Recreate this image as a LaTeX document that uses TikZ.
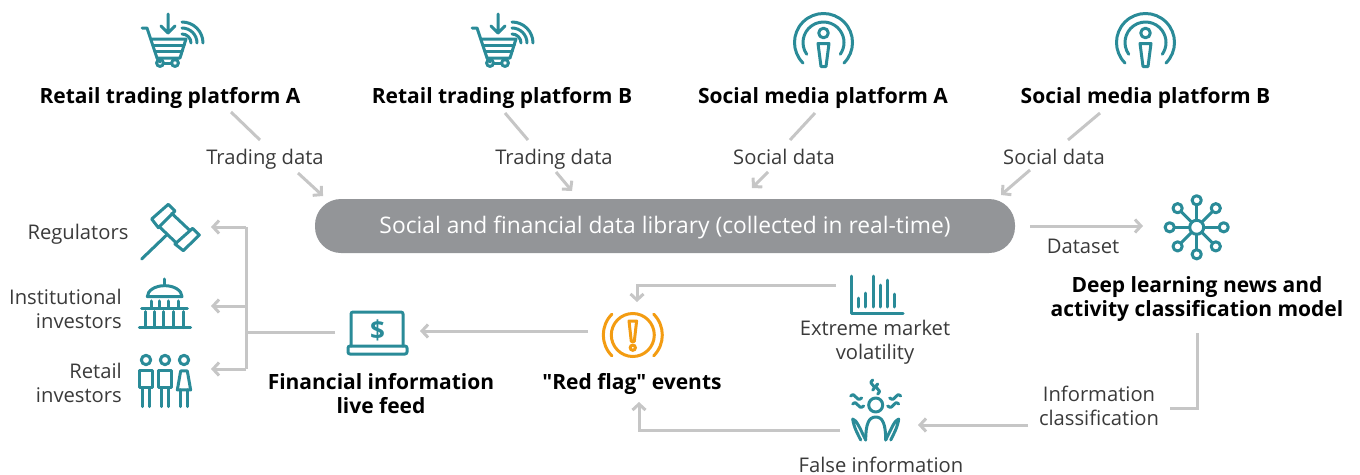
\documentclass[tikz,border=0pt]{standalone}
\usepackage{fontspec}
\setmainfont{Open Sans}[Ligatures=TeXOff]
\usetikzlibrary{arrows.meta}
\definecolor{teal1}{HTML}{2A8B98}
\definecolor{lineg}{HTML}{C6C6C6}
\definecolor{pillg}{HTML}{939598}
\definecolor{orng}{HTML}{F39C12}
\definecolor{txt}{HTML}{3A3A3A}
\tikzset{
  head/.style={font=\fontsize{21}{24}\selectfont\bfseries,text=black,align=center,inner sep=0pt},
  lab/.style={font=\fontsize{20.2}{24}\selectfont,text=txt,align=center,inner sep=0pt},
  conn/.style={draw=lineg,line width=3pt},
  arr/.style={conn,-{Straight Barb[length=6pt,width=13pt,line width=3pt]}},
  ico/.style={draw=teal1,line width=3pt,line cap=round,line join=round},
  cart/.pic={
    \draw[ico] (-26,28)--(-21,28)--(-11,58)--(12,58)--(18,39)--(-17,39);
    \draw[ico] (-15,45)--(16,45) (-13,51)--(14,51);
    \draw[ico] (-11,58)--(-8,62);
    \draw[ico] (-8,63) circle[radius=3.4] (7,63) circle[radius=3.4];
    \draw[ico] (-4.6,63)--(3.6,63);
    \draw[ico] (0,14)--(0,33) (-7,26)--(0,33)--(7,26);
    \draw[ico] (14,34) arc[start angle=270,end angle=360,radius=9];
    \draw[ico] (14,28) arc[start angle=270,end angle=360,radius=15];
    \draw[ico] (14,22) arc[start angle=270,end angle=360,radius=21];
  },
  pod/.pic={
    \draw[ico] (0,-9.5) circle[radius=4.8];
    \draw[ico] (-5.5,1)--(5.5,1)--(2.5,24)--(-2.5,24)--cycle;
    \draw[ico] (135:29) arc[start angle=135,end angle=405,radius=29];
    \draw[ico] (145:20.5) arc[start angle=145,end angle=395,radius=20.5];
  }
}
\begin{document}
\begin{tikzpicture}[x=1pt,y=-1pt]
\useasboundingbox (0,0) rectangle (1360,474);
% ---------- top headings
\pic at (168,0) {cart};
\pic at (498,0) {cart};
\pic at (823.5,42.5) {pod};
\pic at (1145.5,42.5) {pod};
\node[head] (rta) at (170,98) {Retail trading platform A};
\node[head] (rtb) at (502,98) {Retail trading platform B};
\node[head] (sma) at (823,98) {Social media platform A};
\node[head] (smb) at (1145.5,98) {Social media platform B};
\node[lab,anchor=base] (td1) at (265,164) {Trading data};
\node[lab,anchor=base] (td2) at (554,164) {Trading data};
\node[lab,anchor=base] (sd1) at (784,164) {Social data};
\node[lab,anchor=base] (sd2) at (1054,164) {Social data};
% ---------- pill
\node[fill=pillg,rounded corners=26pt,minimum width=700pt,minimum height=54pt,inner sep=0pt,text=white,text height=20pt,text depth=5pt,font=\fontsize{22.8}{26}\selectfont] (lib) at (665,226) {Social and financial data library (collected in real-time)};
% ---------- connector ends
\coordinate (a1) at (231,112); \coordinate (a2) at (260,140); \coordinate (a3) at (298,173); \coordinate (a4) at (323,196);
\coordinate (b1) at (505,113); \coordinate (b2) at (528,140); \coordinate (b3) at (556,172); \coordinate (b4) at (572,191);
\coordinate (c1) at (815,113); \coordinate (c2) at (790,140); \coordinate (c3) at (768,172); \coordinate (c4) at (752,188);
\coordinate (d1) at (1100,113); \coordinate (d2) at (1068,140); \coordinate (d3) at (1030,170); \coordinate (d4) at (1001,195);
\draw[conn] (a1)--(a2); \draw[arr] (a3)--(a4);
\draw[conn] (b1)--(b2); \draw[arr] (b3)--(b4);
\draw[conn] (c1)--(c2); \draw[arr] (c3)--(c4);
\draw[conn] (d1)--(d2); \draw[arr] (d3)--(d4);
% ---------- dataset & model
\coordinate (e1) at (1030,226); \coordinate (e2) at (1143,226);
\draw[arr] (e1)--(e2);
\node[lab] (dset) at (1083,246) {Dataset};
\begin{scope}[shift={(1196.7,227.3)}]
 \foreach \a in {0,45,...,315}{
  \draw[ico,line cap=butt] (\a:7)--(\a:22);
  \draw[ico,fill=white] (\a:27) circle[radius=4.6];
 }
 \draw[ico] (0,0) circle[radius=7];
\end{scope}
\node[head] (dl) at (1197,299) {Deep learning news and\\activity classification model};
\node[lab] (ic) at (1099,406) {Information\\classification};
\coordinate (f1) at (1197,333); \coordinate (f2) at (1197,408); \coordinate (f3) at (1170,408);
\draw[conn] (f1)--(f2)--(f3);
\coordinate (g1) at (1028,425); \coordinate (g2) at (918,425);
\draw[arr] (g1)--(g2);
% ---------- false info icon
\begin{scope}[shift={(875.7,0)}]
 \draw[ico] (0,405) circle[radius=7];
 \draw[ico] (-23,419) .. controls (-19,420) and (-16,428) .. (-10,440) (-23,419) .. controls (-22,427) and (-18,434) .. (-15,440);
 \draw[ico] (23,419) .. controls (19,420) and (16,428) .. (10,440) (23,419) .. controls (22,427) and (18,434) .. (15,440);
 \draw[ico] (-10,440) .. controls (-10,424) and (-7,417) .. (0,417) .. controls (7,417) and (10,424) .. (10,440);
 \draw[ico] (-3,380) .. controls (-9,385) and (3,385) .. (-3,390);
 \draw[ico] (2,384) .. controls (-4,389) and (8,389) .. (2,394);
 \draw[ico] (-25,396) .. controls (-20,391) and (-20,403) .. (-14,398);
 \draw[ico] (-23,404) .. controls (-18,399) and (-18,411) .. (-12,406);
 \draw[ico] (25,396) .. controls (20,391) and (20,403) .. (14,398);
 \draw[ico] (23,404) .. controls (18,399) and (18,411) .. (12,406);
\end{scope}
\node[lab] (fi) at (881,464.5) {False information};
% ---------- volatility
\draw[ico] (851,276)--(851,313)--(903,313);
\foreach \x/\t in {858/298,865/293,873/276,880/285,887/280,894/294}{\draw[ico] (\x,\t)--(\x,307);}
\node[lab] (emv) at (875,342.5) {Extreme market\\volatility};
% ---------- red flag
\begin{scope}[shift={(632.8,335)},line width=3pt,line cap=round]
 \draw[draw=orng] (0,0) circle[radius=21.5];
 \draw[draw=orng] (135:29.5) arc[start angle=135,end angle=225,radius=29.5];
 \draw[draw=orng] (-45:29.5) arc[start angle=-45,end angle=45,radius=29.5];
 \draw[draw=orng,line join=round] (-3.8,-14)--(3.8,-14)--(1.5,6.5)--(-1.5,6.5)--cycle;
 \draw[draw=orng] (0,12.7) circle[radius=2.6];
\end{scope}
\node[head] (rf) at (632,383.5) {"Red flag" events};
\coordinate (h1) at (836,285); \coordinate (h2) at (637,285); \coordinate (h3) at (637,302);
\draw[arr] (h1)--(h2)--(h3);
\coordinate (i1) at (840,430); \coordinate (i2) at (639,430); \coordinate (i3) at (639,402);
\draw[arr] (i1)--(i2)--(i3);
\coordinate (j1) at (588,331); \coordinate (j2) at (420,331);
\draw[arr] (j1)--(j2);
% ---------- laptop
\draw[ico,rounded corners=2pt] (351,346)--(351,312)--(403,312)--(403,346);
\draw[ico,rounded corners=2pt] (348,346) rectangle (407,354);
\node[text=teal1,inner sep=0pt,font=\fontsize{26}{28}\selectfont\bfseries] (dollar) at (377.5,330) {\$};
\node[head] (fl) at (381,393.5) {Financial information\\live feed};
% ---------- branch
\coordinate (k1) at (335,332); \coordinate (k2) at (246,332);
\coordinate (t1) at (246,227); \coordinate (t2) at (246,306); \coordinate (t3) at (246,369);
\coordinate (u1) at (211,227); \coordinate (u2) at (211,306); \coordinate (u3) at (211,369);
\draw[conn] (k1)--(k2);
\draw[arr] (t3)--(u3);
\draw[arr] (t1)--(u1);
\draw[arr] (t2)--(u2);
\draw[conn,line cap=square] (t1)--(t3);
% ---------- audience
\node[lab] (reg) at (78,234) {Regulators};
\node[lab,align=right,anchor=east] (inst) at (122,309) {Institutional\\investors};
\node[lab,align=right,anchor=east] (ret) at (122,383) {Retail\\investors};
% gavel
\begin{scope}[shift={(130,195)},x=0.3333pt,y=-0.3333pt]
 \draw[ico] (35,192)--(110,120);
 \draw[ico] (115,28)--(135,48)--(85,98)--(65,72)--cycle;
 \draw[ico] (188,100)--(208,120)--(160,167)--(135,147)--cycle;
 \draw[ico] (88,95)--(140,145) (125,55)--(178,105);
 % capitol
 \draw[ico] (104,252)--(104,272);
 \draw[ico] (52,305) arc[start angle=180,end angle=360,x radius=52,y radius=33] --cycle;
 \foreach \x in {65,90,117,145}{\draw[ico] (\x,318)--(\x,340);}
 \draw[ico] (35,340)--(172,340);
 \foreach \x in {45,73,100,130,160}{\draw[ico] (\x,350)--(\x,398);}
 \draw[ico] (28,398)--(182,398);
 % people
 \foreach \x in {48,105,162}{\draw[ico] (\x,495) circle[radius=14];}
 \draw[ico] (28,528) rectangle (68,578) (85,528) rectangle (125,578);
 \draw[ico] (38,578)--(38,635) (58,578)--(58,635) (95,578)--(95,635) (115,578)--(115,635);
 \draw[ico] (152,528)--(172,528)--(182,585)--(142,585)--cycle;
 \draw[ico] (152,585)--(152,635) (172,585)--(172,635);
\end{scope}
\end{tikzpicture}
\end{document}
